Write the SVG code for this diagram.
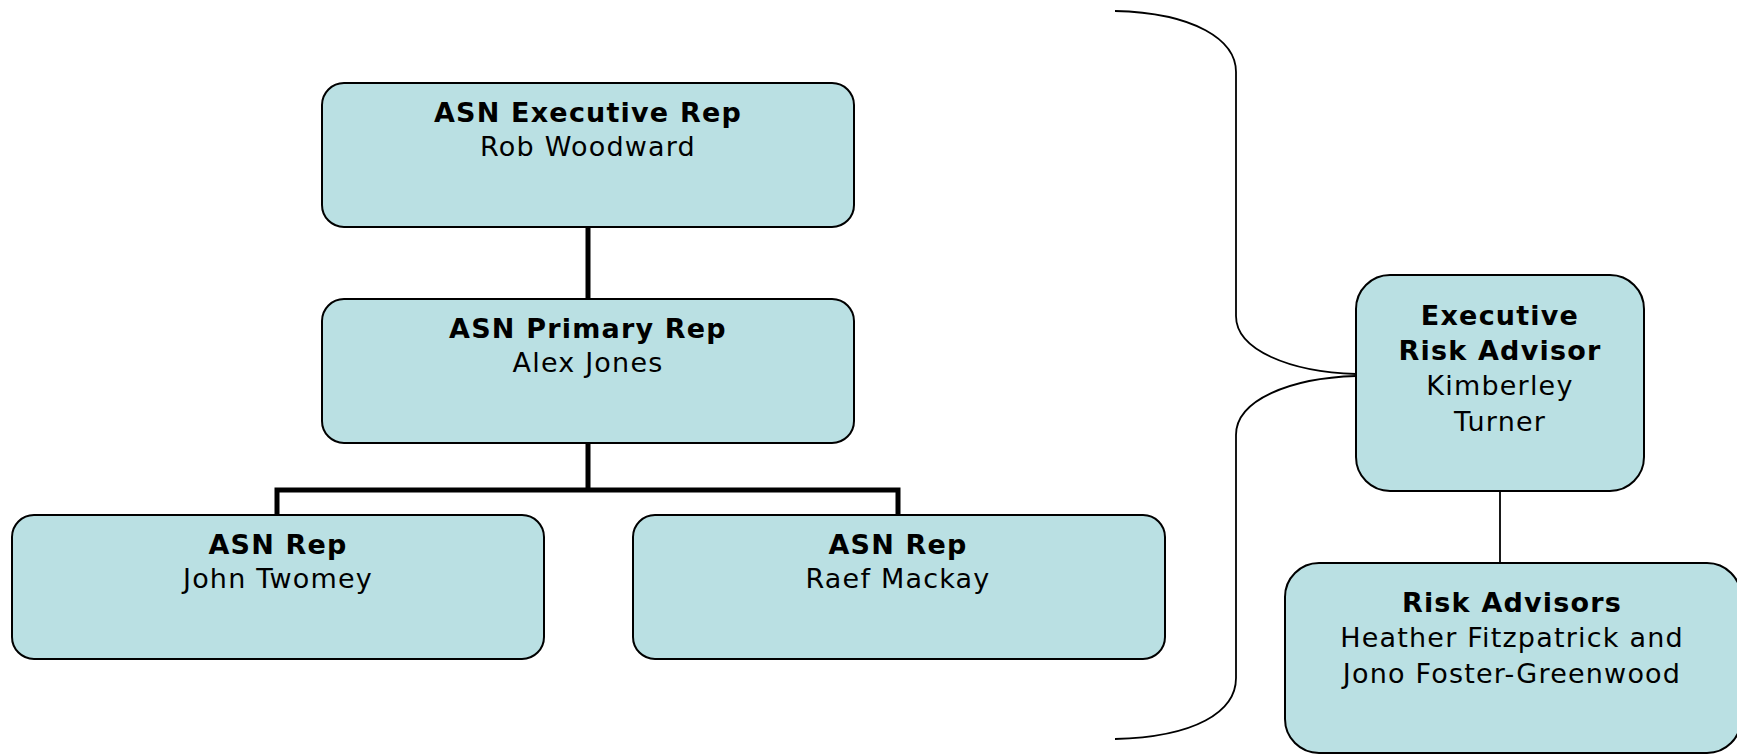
<svg xmlns="http://www.w3.org/2000/svg" width="1737" height="754" viewBox="0 0 1737 754">
<style>
.box{fill:#BAE0E3;stroke:#000;stroke-width:2}
.t{font-family:"DejaVu Sans",Verdana,sans-serif;font-size:27px;letter-spacing:1.2px;text-anchor:middle;fill:#000}
.b{font-weight:bold}
.thick{stroke:#000;stroke-width:5;fill:none}
.thin{stroke:#000;stroke-width:1.8;fill:none}
</style>
<rect width="1737" height="754" fill="#fff"/>
<g id="connectors">
<path class="thick" d="M588,227 V299"/>
<path class="thick" d="M588,443 V490 M277,515 V490 H898 V515"/>
<path class="thin" d="M1500,491 V563"/>
<path class="thin" d="M1115,11 C1195,13 1236,40 1236,72 V316 C1236,350 1290,372 1356,374 M1356,376 C1290,378 1236,400 1236,435 V678 C1236,712 1195,737 1115,739"/>
</g>
<g id="exec-rep">
<rect class="box" x="322" y="83" width="532" height="144" rx="22"/>
<text class="t b" x="588" y="122">ASN Executive Rep</text>
<text class="t" x="588" y="156">Rob Woodward</text>
</g>
<g id="primary-rep">
<rect class="box" x="322" y="299" width="532" height="144" rx="22"/>
<text class="t b" x="588" y="338">ASN Primary Rep</text>
<text class="t" x="588" y="372">Alex Jones</text>
</g>
<g id="rep-john">
<rect class="box" x="12" y="515" width="532" height="144" rx="22"/>
<text class="t b" x="278" y="554">ASN Rep</text>
<text class="t" x="278" y="588">John Twomey</text>
</g>
<g id="rep-raef">
<rect class="box" x="633" y="515" width="532" height="144" rx="22"/>
<text class="t b" x="898" y="554">ASN Rep</text>
<text class="t" x="898" y="588">Raef Mackay</text>
</g>
<g id="exec-risk-advisor">
<rect class="box" x="1356" y="275" width="288" height="216" rx="34"/>
<text class="t b" x="1500" y="325">Executive</text>
<text class="t b" x="1500" y="360">Risk Advisor</text>
<text class="t" x="1500" y="395">Kimberley</text>
<text class="t" x="1500" y="431">Turner</text>
</g>
<g id="risk-advisors">
<rect class="box" x="1285" y="563" width="456" height="190" rx="34"/>
<text class="t b" x="1512" y="612">Risk Advisors</text>
<text class="t" x="1512" y="647">Heather Fitzpatrick and</text>
<text class="t" x="1512" y="683">Jono Foster-Greenwood</text>
</g>
</svg>
